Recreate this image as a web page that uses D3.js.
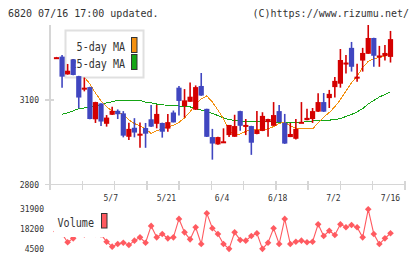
<!DOCTYPE html>
<html>
<head>
<meta charset="utf-8">
<script src="https://cdn.jsdelivr.net/npm/d3@7"></script>
<style>
  body { margin: 0; background: #fff; }
  svg { display: block; }
  text { font-family: "DejaVu Sans Mono", monospace; fill: #333; }
</style>
</head>
<body>
<svg id="chart" width="420" height="259"></svg>
<script>
// trading days shown (2019)
var dates = ["4/12","4/15","4/16","4/17","4/18","4/19","4/22","4/23","4/24","4/25","4/26",
  "5/7","5/8","5/9","5/10","5/13","5/14","5/15","5/16","5/17","5/20","5/21","5/22","5/23","5/24",
  "5/27","5/28","5/29","5/30","5/31","6/3","6/4","6/5","6/6","6/7","6/10","6/11","6/12","6/13",
  "6/14","6/17","6/18","6/19","6/20","6/21","6/24","6/25","6/26","6/27","6/28","7/1","7/2","7/3",
  "7/4","7/5","7/8","7/9","7/10","7/11","7/12","7/16"];

var open  = [3250,3253,3190,3243,3184,3141,3145,3031,3087,3015,3047,3061,3052,2969,3001,2978,3000,3031,3015,3018,
  2998,3055,3143,3078,3093,3065,3149,3068,2968,2942,2952,2975,2969,3060,3010,3007,2979,2990,3021,3008,
  3060,3018,2968,2962,3019,3028,3032,3058,3092,3106,3145,3157,3230,3284,3180,3239,3263,3319,3256,3255,3252];
var high  = [3252,3259,3227,3244,3185,3179,3146,3093,3088,3046,3075,3066,3060,3019,3035,3020,3018,3082,3082,3019,
  3050,3062,3149,3138,3161,3151,3195,3068,2997,2969,2999,3011,3047,3061,3032,3008,3060,3056,3033,3092,
  3082,3050,3018,3032,3092,3068,3071,3123,3124,3135,3181,3280,3259,3305,3228,3284,3365,3320,3291,3294,3344];
var low   = [3249,3143,3189,3187,3070,3130,3031,3018,3007,3005,3046,3032,2967,2958,2967,2930,2930,3004,2999,2966,
  2987,3020,3044,3037,3093,3064,3114,2968,2888,2941,2949,2968,2969,2990,2975,2905,2978,2989,2969,3008,
  3021,2944,2968,2959,3018,3028,3018,3057,3057,3071,3108,3143,3193,3200,3164,3200,3263,3217,3217,3239,3232];
var close = [3251,3182,3203,3188,3108,3143,3032,3092,3023,3037,3061,3049,2973,2997,2984,2980,2980,3005,3050,2987,
  3021,3020,3096,3098,3111,3145,3115,2969,2945,2968,2953,3011,3007,3008,3011,2948,2993,3043,3032,3046,
  3021,2945,2979,2997,3022,3036,3060,3092,3058,3121,3167,3241,3232,3217,3182,3266,3319,3256,3257,3266,3315];

var ma5 = [null,null,null,null,3199,3181,3156,3124,3096,3075,3060,3057,3048,3029,3016,3007,2997,2981,2990,2998,
  3004,3009,3020,3036,3057,3085,3103,3114,3092,3064,3032,2993,2975,2979,2988,2993,2996,2991,2998,3005,
  3016,3021,3007,3000,2998,2997,2997,3018,3039,3055,3075,3101,3131,3160,3184,3214,3236,3245,3250,3255,3266];
var ma25 = [null,3049,3054,3061,3069,3071,3073,3077,3083,3089,3093,3098,3099,3099,3099,3098,3092,3089,3085,3082,
  3081,3080,3078,3076,3075,3069,3064,3059,3052,3044,3036,3030,3027,3025,3024,3023,3022,3022,3022,3021,
  3021,3021,3021,3021,3021,3022,3025,3026,3027,3028,3030,3034,3041,3048,3057,3069,3085,3098,3110,3119,3128];

var volume = [16500,14800,9100,11800,16000,14400,17000,14800,14400,9500,6100,7900,8800,7200,10200,12500,8800,20300,12500,14800,
  11800,12500,25100,15900,11100,19400,7900,29000,18700,14800,7900,4600,15900,10700,10200,13400,15300,4600,8800,18700,
  7900,25100,7900,9500,10200,9100,9500,21400,13400,17000,14100,21400,19400,20900,19400,12500,31700,14800,7900,11800,15300];

var dateTicks = ["5/7","5/21","6/4","6/18","7/2","7/16"];
var priceTicks = [2800, 3100];
var volumeTicks = [4500, 18200, 31900];

var RED = "#d40000", BLUE = "#4046c0", ORANGE = "#f39010", GREEN = "#15a515", VOL = "#ff5a60", GRID = "#d6d6d6";

var svg = d3.select("#chart");

var x = d3.scalePoint().domain(dates).range([56.5, 390.5]);
var y = d3.scaleLinear().domain([2800, 3365]).range([184.5, 25]);
var yv = d3.scaleLinear().domain([4500, 31900]).range([249, 209]);
var gridX = d3.scaleLinear().domain([0, 11]).range([50, 405]);

// header
svg.append("text").attr("x", 8).attr("y", 16.5).style("font-size", "10px")
  .text("6820 07/16 17:00 updated.");
svg.append("text").attr("x", 409).attr("y", 16.5).attr("text-anchor", "end").style("font-size", "10px")
  .text("(C)https://www.rizumu.net/");

// axes
var axis = svg.append("g").attr("stroke", GRID).attr("shape-rendering", "crispEdges");
axis.append("line").attr("x1", 50).attr("x2", 50).attr("y1", 25).attr("y2", 185).attr("stroke-width", 2);
axis.append("line").attr("x1", 50).attr("x2", 405).attr("y1", 184.5).attr("y2", 184.5).attr("stroke-width", 1.5);
axis.selectAll(".xt").data(d3.range(12)).enter().append("line")
  .attr("x1", d => gridX(d)).attr("x2", d => gridX(d)).attr("y1", 181).attr("y2", 190).attr("stroke-width", 1.5);
axis.selectAll(".yt").data(priceTicks).enter().append("line")
  .attr("x1", 45).attr("x2", 54).attr("y1", d => y(d)).attr("y2", d => y(d)).attr("stroke-width", 1.5);

svg.selectAll(".ylab").data(priceTicks).enter().append("text")
  .attr("x", 39).attr("y", d => y(d) + 3).attr("text-anchor", "end").style("font-size", "8px").text(d => d);

svg.selectAll(".xlab").data(dateTicks).enter().append("text")
  .attr("x", (d, i) => x(d) - (i == dateTicks.length - 1 ? 0 : 7)).attr("y", 201)
  .attr("text-anchor", "middle").style("font-size", "8px").text(d => d);

svg.selectAll(".vlab").data(volumeTicks).enter().append("text")
  .attr("x", 44).attr("y", d => yv(d) + 3).attr("text-anchor", "end").style("font-size", "8px").text(d => d);

// moving averages
var maLine = d3.line().defined(d => d != null).x((d, i) => x(dates[i])).y(d => y(d));
svg.append("path").datum(ma25).attr("d", maLine).attr("fill", "none").attr("stroke", GREEN)
  .attr("stroke-width", 1).attr("shape-rendering", "crispEdges");
svg.append("path").datum(ma5).attr("d", maLine).attr("fill", "none").attr("stroke", ORANGE)
  .attr("stroke-width", 1).attr("shape-rendering", "crispEdges");

// legend
var leg = svg.append("g");
leg.append("rect").attr("x", 65.5).attr("y", 30.5).attr("width", 78).attr("height", 47)
  .attr("fill", "#fff").attr("stroke", "#e0e0e0").attr("stroke-width", 2);
[["5-day MA", ORANGE], ["25-day MA", GREEN]].forEach(function(e, k) {
  leg.append("text").attr("x", 125).attr("y", 50.5 + k * 17).attr("text-anchor", "end")
    .style("font-size", "12px").attr("textLength", e[0].length * 6.05).attr("lengthAdjust", "spacingAndGlyphs")
    .text(e[0]);
  leg.append("rect").attr("x", 131.5).attr("y", 37.5 + k * 17).attr("width", 5.5).attr("height", 15)
    .attr("fill", e[1]).attr("stroke", "#333").attr("stroke-width", 1);
});

// candles
var candles = svg.append("g").selectAll("g").data(dates).enter().append("g");
candles.append("line")
  .attr("x1", d => x(d)).attr("x2", d => x(d))
  .attr("y1", (d, i) => y(high[i])).attr("y2", (d, i) => y(low[i]))
  .attr("stroke", (d, i) => close[i] >= open[i] ? RED : BLUE).attr("stroke-width", 1.6);
candles.append("rect")
  .attr("x", d => x(d) - 2.6).attr("width", 5.2)
  .attr("y", (d, i) => y(Math.max(open[i], close[i])))
  .attr("height", (d, i) => Math.max(2, Math.abs(y(open[i]) - y(close[i]))))
  .attr("fill", (d, i) => close[i] >= open[i] ? RED : BLUE);

// volume
var vol = svg.append("g");
vol.append("path").datum(volume)
  .attr("d", d3.line().x((d, i) => x(dates[i])).y(d => yv(d)))
  .attr("fill", "none").attr("stroke", VOL).attr("stroke-width", 1.1);
vol.selectAll("path.pt").data(volume).enter().append("path").attr("class", "pt")
  .attr("d", d3.symbol().type(d3.symbolSquare).size(22))
  .attr("transform", (d, i) => `translate(${x(dates[i])},${yv(d)}) rotate(45)`)
  .attr("fill", VOL);

// volume legend (covers the start of the line)
var vleg = svg.append("g");
vleg.append("rect").attr("x", 54).attr("y", 205).attr("width", 57).attr("height", 32).attr("fill", "#fff");
vleg.append("text").attr("x", 57.5).attr("y", 226.5).style("font-size", "11.5px")
  .attr("textLength", 36.5).attr("lengthAdjust", "spacingAndGlyphs").text("Volume");
vleg.append("rect").attr("x", 101.5).attr("y", 213.5).attr("width", 5.5).attr("height", 14.5)
  .attr("fill", VOL).attr("stroke", "#333").attr("stroke-width", 1);
</script>
</body>
</html>
